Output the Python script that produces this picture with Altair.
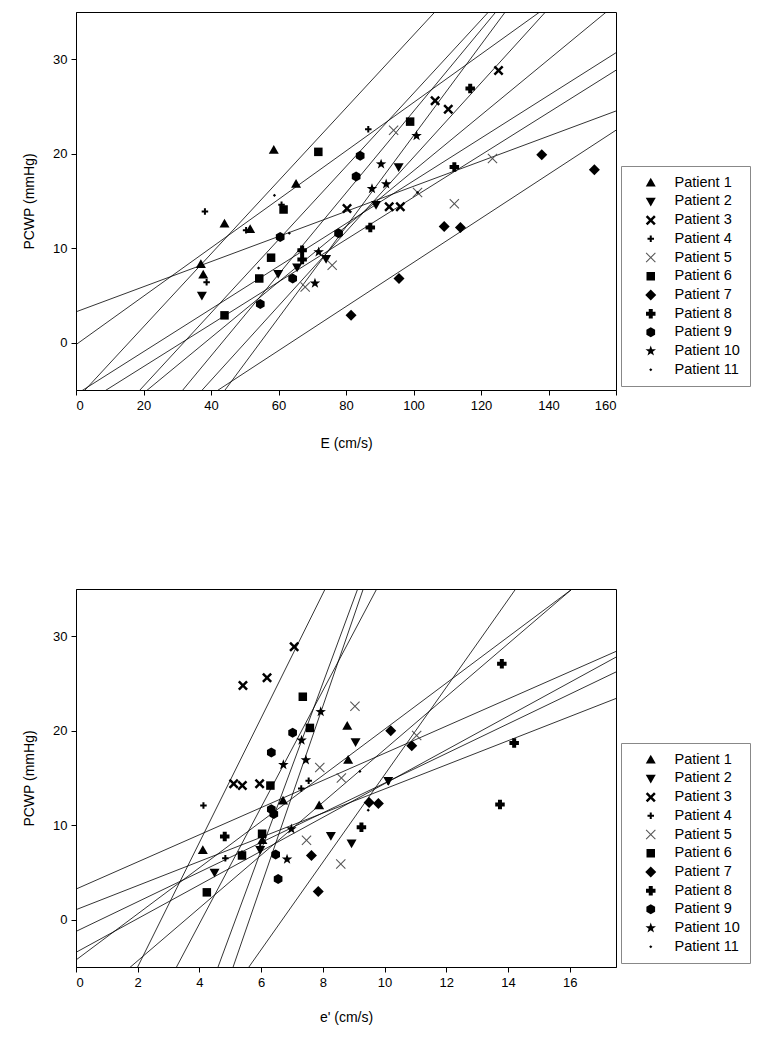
import altair as alt
import pandas as pd

PATIENTS = [f"Patient {i}" for i in range(1, 12)]

# ---- Top panel: E (cm/s) vs PCWP (mmHg) ----
E_TOP = {
    "Patient 1": [37.0, 37.7, 44.0, 51.6, 58.6, 65.2],
    "Patient 2": [37.3, 59.9, 65.5, 74.1, 88.9, 95.6],
    "Patient 3": [80.3, 92.8, 96.1, 106.4, 110.3, 125.2],
    "Patient 4": [38.2, 38.7, 50.4, 60.9, 86.6],
    "Patient 5": [67.9, 75.9, 94.1, 101.2, 112.1, 123.4],
    "Patient 6": [44.0, 54.3, 57.8, 61.5, 71.8, 99.0],
    "Patient 7": [81.5, 95.7, 109.1, 113.9, 138.0, 153.6],
    "Patient 8": [67.0, 67.0, 87.2, 112.1, 116.8],
    "Patient 9": [54.6, 60.5, 64.2, 77.8, 83.0, 84.2],
    "Patient 10": [70.8, 71.9, 87.7, 90.4, 91.9, 100.9],
    "Patient 11": [37.7, 54.1, 58.8, 63.2, 101.2],
}
PCWP_TOP = {
    "Patient 1": [8.3, 7.2, 12.6, 12.0, 20.4, 16.8],
    "Patient 2": [5.0, 7.3, 8.0, 8.9, 14.6, 18.6],
    "Patient 3": [14.2, 14.4, 14.4, 25.6, 24.7, 28.8],
    "Patient 4": [13.9, 6.4, 11.9, 14.6, 22.6],
    "Patient 5": [5.9, 8.2, 22.5, 15.9, 14.7, 19.5],
    "Patient 6": [2.9, 6.8, 9.0, 14.1, 20.2, 23.4],
    "Patient 7": [2.9, 6.8, 12.3, 12.2, 19.9, 18.3],
    "Patient 8": [9.8, 8.8, 12.2, 18.6, 26.9],
    "Patient 9": [4.1, 11.2, 6.8, 11.6, 17.6, 19.8],
    "Patient 10": [6.3, 9.6, 16.3, 18.9, 16.8, 21.9],
    "Patient 11": [7.2, 7.9, 15.6, 11.6, 15.9],
}

# ---- Bottom panel: e' (cm/s) vs PCWP (mmHg) ----
EP_BOTTOM = {
    "Patient 1": [4.11, 6.04, 6.71, 7.88, 8.79, 8.82],
    "Patient 2": [4.49, 5.97, 8.26, 8.93, 9.06, 10.12],
    "Patient 3": [5.11, 5.39, 5.41, 5.95, 6.19, 7.07],
    "Patient 4": [4.13, 4.84, 7.3, 7.54],
    "Patient 5": [7.47, 7.9, 8.58, 8.6, 9.04, 11.04],
    "Patient 6": [4.24, 5.38, 6.03, 6.3, 7.35, 7.58],
    "Patient 7": [7.63, 7.85, 9.5, 9.8, 10.2, 10.88],
    "Patient 8": [4.82, 9.25, 13.74, 13.8, 14.2],
    "Patient 9": [6.33, 6.33, 6.41, 6.47, 6.55, 7.02],
    "Patient 10": [6.72, 6.84, 6.98, 7.31, 7.45, 7.93],
    "Patient 11": [5.38, 5.97, 9.2, 9.47, 10.12],
}
PCWP_BOTTOM = {
    "Patient 1": [7.35, 8.4, 12.6, 12.1, 20.5, 16.9],
    "Patient 2": [5.0, 7.4, 8.9, 8.1, 18.8, 14.7],
    "Patient 3": [14.4, 14.2, 24.8, 14.4, 25.6, 28.9],
    "Patient 4": [12.1, 6.5, 13.9, 14.7],
    "Patient 5": [8.4, 16.1, 5.9, 15.0, 22.6, 19.5],
    "Patient 6": [2.9, 6.8, 9.1, 14.2, 23.6, 20.3],
    "Patient 7": [6.8, 3.0, 12.4, 12.3, 20.0, 18.4],
    "Patient 8": [8.8, 9.8, 12.2, 27.1, 18.7],
    "Patient 9": [11.7, 17.7, 11.2, 6.9, 4.3, 19.8],
    "Patient 10": [16.4, 6.4, 9.6, 19.0, 16.9, 22.0],
    "Patient 11": [7.2, 7.9, 15.7, 11.6, 14.4],
}

E_DOMAIN = [0, 160]
E_TICKS = [0, 20, 40, 60, 80, 100, 120, 140, 160]
EP_DOMAIN = [0, 17.5]
EP_TICKS = [0, 2, 4, 6, 8, 10, 12, 14, 16]
PCWP_DOMAIN = [-5, 35]
PCWP_TICKS = [0, 10, 20, 30]

# marker glyphs (unit-square SVG paths), one per patient
SHAPES = [
    "M0,-1L1,0.75L-1,0.75Z",                                   # triangle up
    "M-1,-0.75L1,-0.75L0,1Z",                                  # triangle down
    "M-1,-0.65L-0.65,-1L0,-0.35L0.65,-1L1,-0.65L0.35,0L1,0.65L0.65,1L0,0.35L-0.65,1L-1,0.65L-0.35,0Z",  # bold x
    "M-0.2,-0.65L0.2,-0.65L0.2,-0.2L0.65,-0.2L0.65,0.2L0.2,0.2L0.2,0.65L-0.2,0.65L-0.2,0.2L-0.65,0.2L-0.65,-0.2L-0.2,-0.2Z",  # small plus
    "M-1,-0.85L-0.85,-1L0,-0.15L0.85,-1L1,-0.85L0.15,0L1,0.85L0.85,1L0,0.15L-0.85,1L-1,0.85L-0.15,0Z",  # thin x
    "M-0.85,-0.85L0.85,-0.85L0.85,0.85L-0.85,0.85Z",           # square
    "M0,-1.1L1.1,0L0,1.1L-1.1,0Z",                              # diamond
    "M-0.4,-0.95L0.4,-0.95L0.4,-0.4L0.95,-0.4L0.95,0.4L0.4,0.4L0.4,0.95L-0.4,0.95L-0.4,0.4L-0.95,0.4L-0.95,-0.4L-0.4,-0.4Z",  # fat cross
    "M0,-1L0.87,-0.5L0.87,0.5L0,1L-0.87,0.5L-0.87,-0.5Z",      # hexagon
    "M0,-1.1L0.26,-0.36L1.05,-0.34L0.42,0.14L0.65,0.89L0,0.44L-0.65,0.89L-0.42,0.14L-1.05,-0.34L-0.26,-0.36Z",  # star
    "M0,-0.32L0.32,0L0,0.32L-0.32,0Z",                          # small dot
]
COLORS = ["black", "black", "black", "black", "#555555",
          "black", "black", "black", "black", "black", "black"]

FONT = "Liberation Sans"


def frame(xs, ys):
    rows = []
    for p in PATIENTS:
        for xv, yv in zip(xs[p], ys[p]):
            rows.append({"patient": p, "x": xv, "y": yv})
    return pd.DataFrame(rows)


def panel(df, x_domain, x_ticks, x_title, x_title_pad):
    x = alt.X("x:Q", scale=alt.Scale(domain=x_domain, nice=False, zero=False),
              axis=alt.Axis(values=x_ticks, title=x_title, titlePadding=x_title_pad))
    y = alt.Y("y:Q", scale=alt.Scale(domain=PCWP_DOMAIN, nice=False, zero=False),
              axis=alt.Axis(values=PCWP_TICKS, title="PCWP (mmHg)", titlePadding=16))
    legend = alt.Legend(title=None, orient="none", legendX=545, legendY=154,
                        strokeColor="#888888", padding=9.5, rowPadding=3.7,
                        labelFontSize=14.5, symbolOffset=13, labelOffset=16.5,
                        labelFont=FONT, labelColor="black")
    lines = (
        alt.Chart(df)
        .transform_regression("x", "y", groupby=["patient"], extent=x_domain)
        .mark_line(clip=True, color="black", strokeWidth=0.8)
        .encode(x=x, y=y, detail="patient:N")
    )
    pts = (
        alt.Chart(df)
        .mark_point(filled=True, size=100, opacity=1)
        .encode(
            x=x, y=y,
            shape=alt.Shape("patient:N", scale=alt.Scale(domain=PATIENTS, range=SHAPES), legend=legend),
            color=alt.Color("patient:N", scale=alt.Scale(domain=PATIENTS, range=COLORS), legend=legend),
        )
    )
    return alt.layer(lines, pts).properties(width=540, height=378)


top = panel(frame(E_TOP, PCWP_TOP), E_DOMAIN, E_TICKS, "E (cm/s)", 24)
bottom = panel(frame(EP_BOTTOM, PCWP_BOTTOM), EP_DOMAIN, EP_TICKS, "e' (cm/s)", 21)

chart = (
    alt.vconcat(top, bottom, spacing=137)
    .resolve_scale(shape="independent", color="independent")
    .resolve_legend(shape="independent", color="independent")
    .properties(padding={"left": 14, "top": 3, "right": 0, "bottom": 0})
    .configure(font=FONT)
    .configure_view(stroke="black", strokeWidth=1)
    .configure_axis(domainColor="black", tickColor="black", labelColor="black",
                    titleColor="black", labelFontSize=13, titleFontSize=14,
                    titleFontWeight="normal", grid=False, tickSize=5, labelPadding=4,
                    labelFont=FONT, titleFont=FONT)
)

chart.save("out.html", embed_options={"renderer": "svg", "actions": False})
